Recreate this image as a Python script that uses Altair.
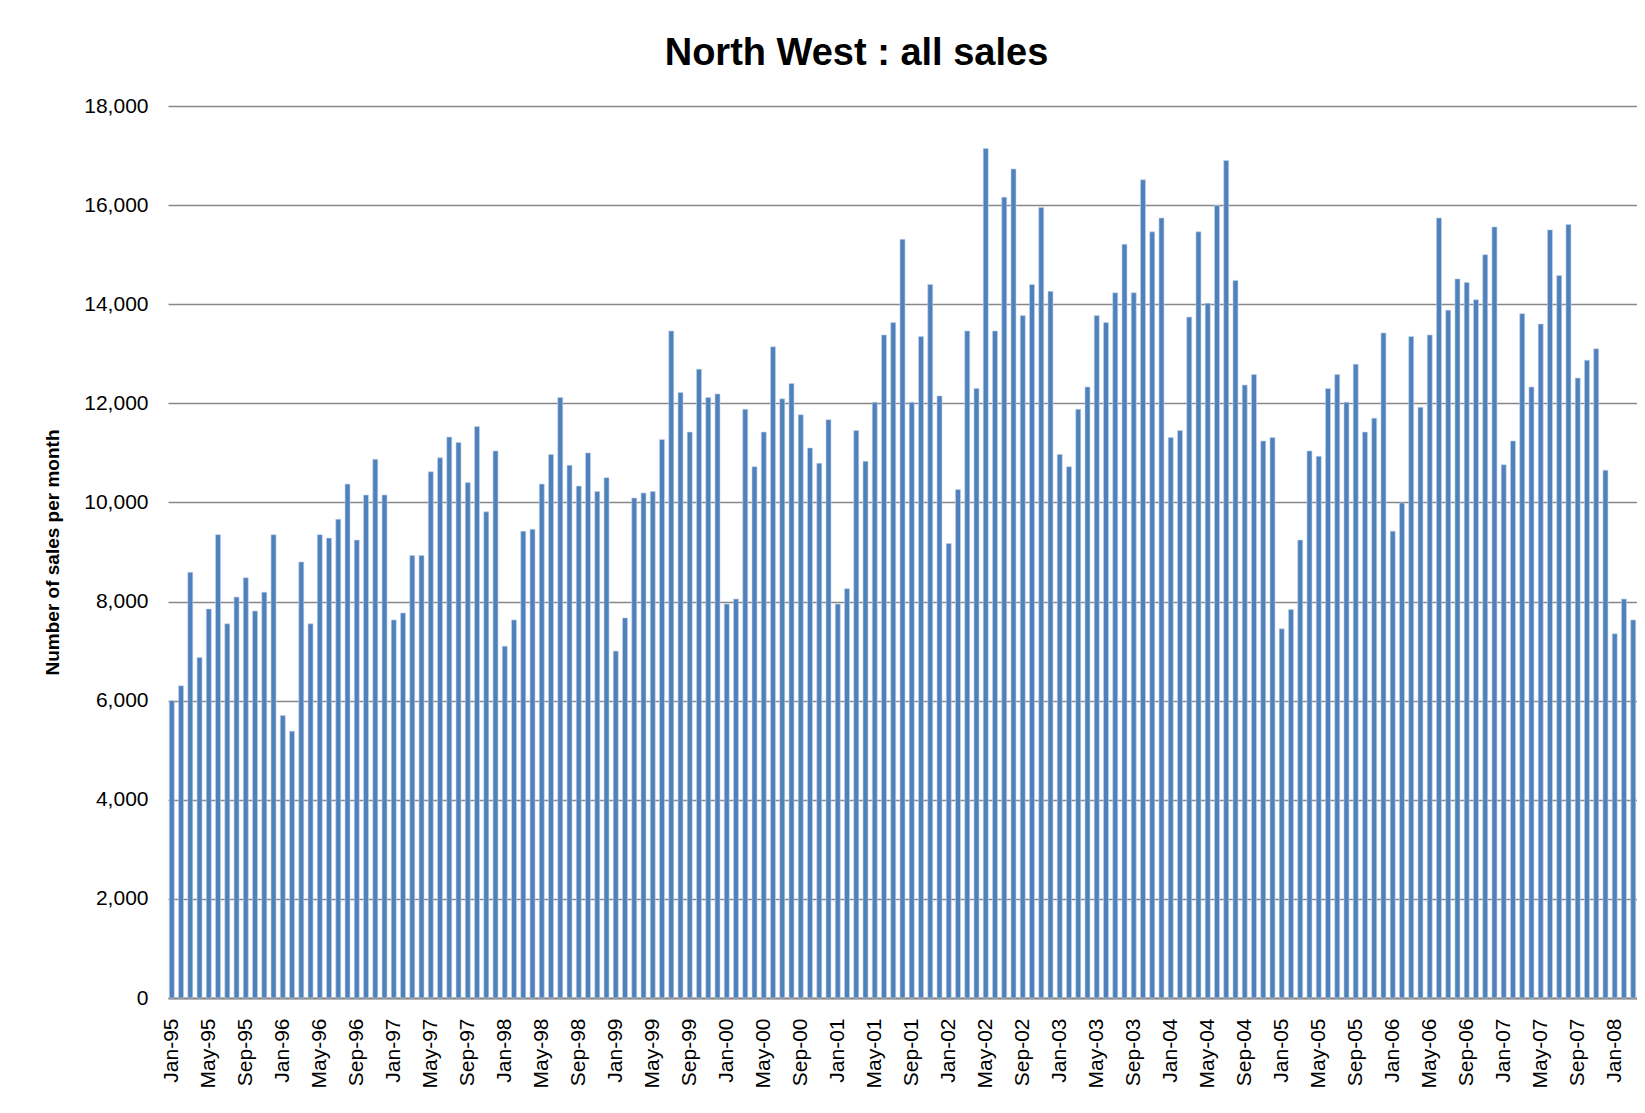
import altair as alt
import pandas as pd

MONTH_NAMES = ["Jan", "Feb", "Mar", "Apr", "May", "Jun",
               "Jul", "Aug", "Sep", "Oct", "Nov", "Dec"]
YEARS = ["95", "96", "97", "98", "99", "00", "01", "02",
         "03", "04", "05", "06", "07", "08"]

sales_1995 = [6000, 6300, 8590, 6870, 7850, 9350, 7550, 8090, 8480, 7810, 8190, 9350]
sales_1996 = [5700, 5385, 8800, 7550, 9350, 9280, 9660, 10370, 9240, 10150, 10870, 10150]
sales_1997 = [7630, 7770, 8930, 8930, 10620, 10900, 11320, 11210, 10400, 11530, 9810, 11040]
sales_1998 = [7100, 7630, 9420, 9460, 10370, 10970, 12120, 10750, 10330, 11000, 10220, 10500]
sales_1999 = [7000, 7670, 10090, 10190, 10220, 11270, 13460, 12220, 11420, 12690, 12120, 12190]
sales_2000 = [7950, 8050, 11880, 10720, 11420, 13140, 12090, 12400, 11770, 11100, 10790, 11670]
sales_2001 = [7950, 8260, 11450, 10830, 12020, 13380, 13630, 15310, 12020, 13350, 14400, 12150]
sales_2002 = [9170, 10260, 13460, 12300, 17140, 13460, 16160, 16730, 13770, 14400, 15950, 14260]
sales_2003 = [10970, 10720, 11880, 12330, 13770, 13630, 14230, 15210, 14230, 16510, 15460, 15740]
sales_2004 = [11310, 11450, 13740, 15460, 14020, 15990, 16900, 14480, 12370, 12580, 11240, 11310]
sales_2005 = [7450, 7840, 9240, 11040, 10930, 12300, 12580, 12020, 12790, 11420, 11700, 13420]
sales_2006 = [9420, 9990, 13350, 11920, 13380, 15740, 13880, 14510, 14440, 14090, 15000, 15560]
sales_2007 = [10760, 11240, 13810, 12330, 13600, 15500, 14580, 15610, 12510, 12870, 13100, 10650]
sales_2008 = [7350, 8050, 7630]

yearly = [sales_1995, sales_1996, sales_1997, sales_1998, sales_1999, sales_2000,
          sales_2001, sales_2002, sales_2003, sales_2004, sales_2005, sales_2006,
          sales_2007, sales_2008]

months, values = [], []
for yy, vals in zip(YEARS, yearly):
    for m, v in zip(MONTH_NAMES, vals):
        months.append(f"{m}-{yy}")
        values.append(v)

tick_labels = months[::4]
y_ticks = [0, 2000, 4000, 6000, 8000, 10000, 12000, 14000, 16000, 18000]

df = pd.DataFrame({"month": months, "sales": values})

FONT = "Liberation Sans"

chart = alt.Chart(df).mark_bar(
    color="#4F81BD", stroke="#c2d3ea", strokeWidth=0.6
).encode(
    x=alt.X("month:N", sort=months,
            scale=alt.Scale(paddingInner=0.46, paddingOuter=0.14),
            axis=alt.Axis(values=tick_labels, labelAngle=-90, title=None,
                          ticks=False, grid=False,
                          labelPadding=20, labelFontSize=21,
                          labelFont=FONT, labelColor="black",
                          domainColor="#878787", domainWidth=2,
                          labelOverlap=False)),
    y=alt.Y("sales:Q", scale=alt.Scale(domain=[0, 18000], nice=False),
            axis=alt.Axis(values=y_ticks, format=",d", title="Number of sales per month",
                          titleFont=FONT, titleFontSize=19, titleFontWeight="bold",
                          titleColor="black", titleAngle=270, titleBaseline="middle",
                          titleX=-116, titleY=446,
                          labelFont=FONT, labelFontSize=21, labelColor="black",
                          labelPadding=20, ticks=False, domain=False,
                          grid=True, gridColor="#878787", gridWidth=1.3)),
).properties(
    width=1469,
    height=892,
    background="white",
    title=alt.TitleParams("North West : all sales", font=FONT, fontSize=38,
                          fontWeight="bold", color="black", anchor="middle",
                          frame="group", baseline="alphabetic", offset=41,
                          dx=-46, dy=49),
    autosize=alt.AutoSizeParams(type="none"),
    padding={"left": 160, "right": 0, "top": 98, "bottom": 100},
).configure_view(strokeWidth=0, stroke="transparent")

chart.save("out.html", embed_options={"renderer": "svg", "actions": False})
